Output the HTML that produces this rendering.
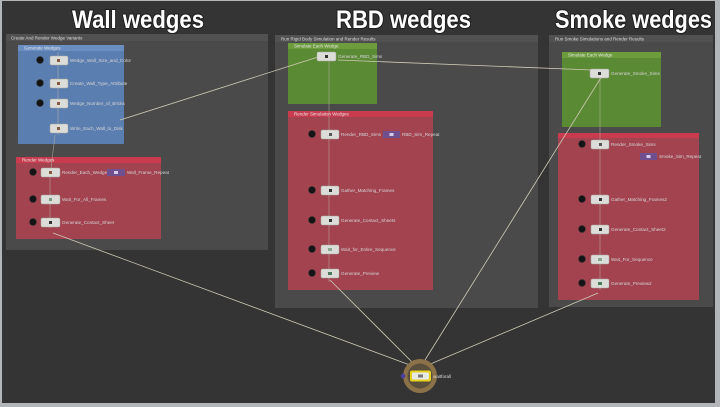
<!DOCTYPE html>
<html><head><meta charset="utf-8"><style>
html,body{margin:0;padding:0;background:#b3b6b9;width:720px;height:407px;overflow:hidden}
svg{display:block}
text{font-family:"Liberation Sans",sans-serif}
</style></head><body>
<svg width="720" height="407" viewBox="0 0 720 407" xmlns="http://www.w3.org/2000/svg">
<rect x="0" y="0" width="720" height="407" fill="#b3b6b9"/>
<rect x="2" y="1" width="713" height="402" fill="#343434"/>

<!-- Titles -->
<g font-weight="bold" font-size="25" fill="#ffffff" stroke="#1e1e1e" stroke-width="2.2" paint-order="stroke" stroke-linejoin="round">
<text x="72" y="28" textLength="132" lengthAdjust="spacingAndGlyphs">Wall wedges</text>
<text x="336" y="28" textLength="135" lengthAdjust="spacingAndGlyphs">RBD wedges</text>
<text x="555" y="28" textLength="157" lengthAdjust="spacingAndGlyphs">Smoke wedges</text>
</g>

<!-- Panels -->
<rect x="6" y="34" width="262" height="216" fill="#4a4a4a"/>
<rect x="6" y="34" width="262" height="7" fill="#515151"/>
<rect x="275" y="35" width="263" height="273" fill="#4a4a4a"/>
<rect x="275" y="35" width="263" height="7" fill="#515151"/>
<rect x="549" y="35" width="164" height="272" fill="#4a4a4a"/>
<rect x="549" y="35" width="164" height="7" fill="#515151"/>
<g font-size="4.5" fill="#dcdcdc">
<text x="11" y="39.5">Create And Render Wedge Variants</text>
<text x="281" y="40.5">Run Rigid Body Simulation and Render Results</text>
<text x="555" y="40.5">Run Smoke Simulations and Render Results</text>
</g>

<!-- Sub boxes -->
<rect x="18" y="45" width="106" height="99" fill="#5b7eb0" rx="1"/>
<rect x="18" y="45" width="106" height="6" fill="#6a8ec2"/>
<rect x="16" y="157" width="145" height="82" fill="#a2434f"/>
<rect x="16" y="157" width="145" height="6" fill="#c93b4e"/>

<rect x="288" y="43" width="89" height="61" fill="#5b8a35"/>
<rect x="288" y="43" width="89" height="6" fill="#6c9c3c"/>
<rect x="288" y="111" width="145" height="179" fill="#a2434f"/>
<rect x="288" y="111" width="145" height="6" fill="#c93b4e"/>

<rect x="562" y="52" width="99" height="75" fill="#5b8a35"/>
<rect x="562" y="52" width="99" height="6" fill="#6c9c3c"/>
<rect x="558" y="133" width="141" height="167" fill="#a2434f"/>
<rect x="558" y="133" width="141" height="5" fill="#c93b4e"/>

<g font-size="4.5" fill="#e8e8e8">
<text x="24" y="49.5">Generate Wedges</text>
<text x="22" y="161.5">Render Wedges</text>
<text x="294" y="47.5">Simulate Each Wedge</text>
<text x="294" y="115.5">Render Simulation Wedges</text>
<text x="568" y="56.5">Simulate Each Wedge</text>
</g>

<!-- vertical internal connectors -->
<g stroke="#b9b6a6" stroke-width="0.6" opacity="0.8" fill="none">
<line x1="58" y1="52" x2="58" y2="135"/>
<line x1="55" y1="135" x2="51" y2="168"/>
<line x1="50" y1="168" x2="50" y2="228"/>
<line x1="329" y1="52" x2="329" y2="282"/>
<line x1="600" y1="70" x2="600" y2="290"/>
</g>

<!-- long connectors -->
<g stroke="#cfcab5" stroke-width="0.8" fill="none">
<line x1="120" y1="120" x2="318" y2="57"/>
<line x1="338" y1="60" x2="592" y2="70"/>
<line x1="53" y1="233" x2="418" y2="368"/>
<line x1="330" y1="280" x2="418" y2="368"/>
<line x1="602" y1="76" x2="420" y2="368"/>
<line x1="598" y1="293" x2="421" y2="368"/>
</g>

<!-- black circles -->
<g fill="#141414" stroke="#2e2e2e" stroke-width="0.6">
<circle cx="40" cy="60" r="3.4"/>
<circle cx="40" cy="83" r="3.4"/>
<circle cx="40" cy="103" r="3.4"/>
<circle cx="33" cy="172" r="3.4"/>
<circle cx="33" cy="199" r="3.4"/>
<circle cx="33" cy="222" r="3.4"/>
<circle cx="312" cy="134" r="3.4"/>
<circle cx="312" cy="190" r="3.4"/>
<circle cx="312" cy="220" r="3.4"/>
<circle cx="312" cy="249" r="3.4"/>
<circle cx="312" cy="273" r="3.4"/>
<circle cx="582" cy="144" r="3.4"/>
<circle cx="582" cy="199" r="3.4"/>
<circle cx="582" cy="229" r="3.4"/>
<circle cx="582" cy="259" r="3.4"/>
<circle cx="582" cy="283" r="3.4"/>
</g>

<!-- node boxes -->
<g fill="#dcdcd8" stroke="#a9a9a4" stroke-width="0.5">
<rect x="50" y="56" width="18" height="9" rx="1.5"/>
<rect x="50" y="79" width="18" height="9" rx="1.5"/>
<rect x="50" y="99" width="18" height="9" rx="1.5"/>
<rect x="50" y="124" width="18" height="9" rx="1.5"/>
<rect x="41" y="168" width="19" height="9" rx="1.5"/>
<rect x="41" y="195" width="19" height="9" rx="1.5"/>
<rect x="41" y="218" width="19" height="9" rx="1.5"/>
<rect x="317" y="52" width="19" height="9" rx="1.5"/>
<rect x="321" y="130" width="18" height="9" rx="1.5"/>
<rect x="321" y="186" width="18" height="9" rx="1.5"/>
<rect x="321" y="216" width="18" height="9" rx="1.5"/>
<rect x="321" y="245" width="18" height="9" rx="1.5"/>
<rect x="321" y="269" width="18" height="9" rx="1.5"/>
<rect x="590" y="69" width="19" height="9" rx="1.5"/>
<rect x="591" y="140" width="18" height="9" rx="1.5"/>
<rect x="591" y="195" width="18" height="9" rx="1.5"/>
<rect x="591" y="225" width="18" height="9" rx="1.5"/>
<rect x="591" y="255" width="18" height="9" rx="1.5"/>
<rect x="591" y="279" width="18" height="9" rx="1.5"/>
</g>
<!-- node icons -->
<g fill="#8a5a40">
<rect x="57" y="59" width="3" height="3"/>
<rect x="57" y="82" width="3" height="3"/>
<rect x="57" y="102" width="3" height="3"/>
<rect x="57" y="127" width="3" height="3"/>
<rect x="49" y="171" width="3" height="3"/>
<rect x="49" y="198" width="3" height="3" fill="#7a9a80"/>
<rect x="49" y="221" width="3" height="3" fill="#333"/>
<rect x="325" y="55" width="3" height="3" fill="#333"/>
<rect x="329" y="133" width="3" height="3" fill="#555"/>
<rect x="329" y="189" width="3" height="3" fill="#333"/>
<rect x="329" y="219" width="3" height="3" fill="#333"/>
<rect x="328" y="248" width="4" height="3" fill="#8aa890"/>
<rect x="328" y="272" width="4" height="3" fill="#4a7a5a"/>
<rect x="598" y="72" width="3" height="3" fill="#333"/>
<rect x="599" y="143" width="3" height="3" fill="#555"/>
<rect x="599" y="198" width="3" height="3" fill="#333"/>
<rect x="599" y="228" width="3" height="3" fill="#333"/>
<rect x="598" y="258" width="4" height="3" fill="#8aa890"/>
<rect x="598" y="282" width="4" height="3" fill="#4a7a5a"/>
</g>

<!-- purple boxes -->
<g>
<rect x="107" y="169" width="18" height="7" fill="#6f4f8e"/>
<rect x="114" y="171" width="4" height="3" fill="#d8ccec"/>
<rect x="383" y="131" width="17" height="7" fill="#6f4f8e"/>
<rect x="389.5" y="133" width="4" height="3" fill="#d8ccec"/>
<rect x="640" y="153" width="17" height="7" fill="#6f4f8e"/>
<rect x="646.5" y="155" width="4" height="3" fill="#d8ccec"/>
</g>

<!-- labels -->
<g font-size="4.6" fill="#d6d6d6">
<text x="70" y="62">Wedge_Wall_Size_and_Color</text>
<text x="70" y="85">Create_Wall_Type_Attribute</text>
<text x="70" y="105">Wedge_Number_of_Bricks</text>
<text x="70" y="130">Write_Each_Wall_to_Disk</text>
<text x="62" y="174">Render_Each_Wedge</text>
<text x="62" y="201">Wait_For_All_Frames</text>
<text x="62" y="224">Generate_Contact_Sheet</text>
<text x="127" y="174">Wall_Frame_Repeat</text>
<text x="338" y="58">Generate_RBD_Sims</text>
<text x="341" y="136">Render_RBD_Sims</text>
<text x="402" y="136">RBD_Sim_Repeat</text>
<text x="341" y="192">Gather_Matching_Frames</text>
<text x="341" y="222">Generate_Contact_Sheets</text>
<text x="341" y="251">Wait_for_Entire_Sequence</text>
<text x="341" y="275">Generate_Preview</text>
<text x="611" y="75">Generate_Smoke_Sims</text>
<text x="611" y="146">Render_Smoke_Sims</text>
<text x="659" y="158">Smoke_Sim_Repeat</text>
<text x="611" y="201">Gather_Matching_Frames2</text>
<text x="611" y="231">Generate_Contact_Sheet2</text>
<text x="611" y="261">Wait_For_Sequence</text>
<text x="611" y="285">Generate_Preview2</text>
</g>

<!-- bottom node -->
<circle cx="420" cy="376" r="17" fill="#8c7248"/>
<circle cx="420" cy="376" r="12.5" fill="#5a4e3c"/>
<circle cx="403" cy="376" r="2.3" fill="#4a3fa0"/>
<rect x="410" y="370.5" width="21" height="11" rx="2" fill="#e6d21e"/>
<rect x="412" y="372.5" width="17" height="7" rx="1" fill="#e8e8e4"/>
<rect x="418" y="374.5" width="5" height="3" fill="#777"/>
<text x="433" y="378" font-size="4.6" fill="#d6d6d6">waitforall</text>
</svg>
</body></html>
